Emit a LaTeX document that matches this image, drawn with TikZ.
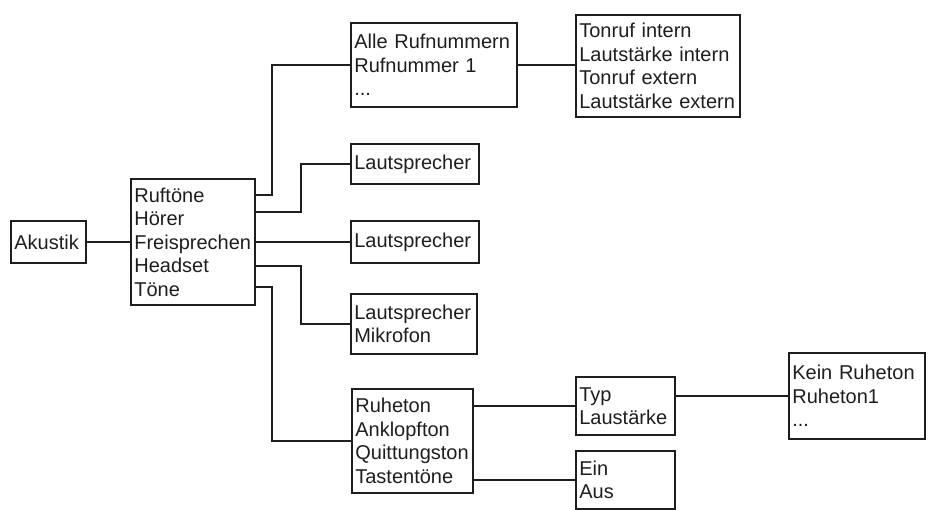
\documentclass[tikz,border=0pt]{standalone}
\usepackage{fontspec}
\setmainfont{Liberation Sans}
\usetikzlibrary{calc}
\definecolor{ink}{HTML}{1E1E1E}
\tikzset{
  box/.style={draw=ink, line width=1.5pt, anchor=north west, align=left,
    inner xsep=2.5pt, inner ysep=0pt, text=ink,
    font=\fontsize{15pt}{17.6pt}\selectfont},
  link/.style={draw=ink, line width=1.5pt}
}
\begin{document}
\begin{tikzpicture}[x=0.75pt,y=-0.75pt]
\useasboundingbox (0,0) rectangle (932,510);
\node[box, minimum width=56.25pt, minimum height=31.5pt, text width=51.25pt] (ak) at (10,220) {Akustik};
\node[box, minimum width=93pt, minimum height=94.5pt, text width=88pt] (main) at (130,178) {Ruftöne\\Hörer\\Freisprechen\\Headset\\Töne};
\node[box, minimum width=124.5pt, minimum height=63pt, text width=119.5pt] (alle) at (350,22) {Alle Rufnummern\\Rufnummer 1\\...};
\node[box, minimum width=123pt, minimum height=76.5pt, text width=118pt] (ton) at (575,14) {Tonruf intern\\Lautstärke intern\\Tonruf extern\\Lautstärke extern};
\node[box, minimum width=96pt, minimum height=30pt, text width=91pt] (ls1) at (350,143) {Lautsprecher};
\node[box, minimum width=96pt, minimum height=31.5pt, text width=91pt] (ls2) at (350,220) {Lautsprecher};
\node[box, minimum width=94.5pt, minimum height=45pt, text width=89.5pt] (ls3) at (350,293) {Lautsprecher\\Mikrofon};
\node[box, minimum width=90.75pt, minimum height=78pt, text width=85.75pt] (ruh) at (351,388) {Ruheton\\Anklopfton\\Quittungston\\Tastentöne};
\node[box, minimum width=74.25pt, minimum height=43.5pt, text width=69.25pt] (typ) at (575,376) {Typ\\Laustärke};
\node[box, minimum width=74.25pt, minimum height=43.5pt, text width=69.25pt] (ein) at (575,450) {Ein\\Aus};
\node[box, minimum width=102pt, minimum height=64.5pt, text width=97pt] (kein) at (788,352) {Kein Ruheton\\Ruheton1\\...};

\draw[link] (ak.east) -- (ak.east -| main.west);
\draw[link] ($(main.east)+(0,-47)$) -- ++(16,0) |- (alle.west);
\draw[link] ($(main.east)+(0,-30)$) -- ++(45,0) |- (ls1.west);
\draw[link] (main.east) -- (main.east -| ls2.west);
\draw[link] ($(main.east)+(0,24)$) -- ++(45,0) |- (ls3.west);
\draw[link] ($(main.east)+(0,45)$) -- ++(16,0) |- (ruh.west);
\draw[link] (alle.east) -- (alle.east -| ton.west);
\draw[link] (ruh.east |- typ.west) -- (typ.west);
\draw[link] (ruh.east |- ein.west) -- (ein.west);
\draw[link] (typ.east |- kein.west) -- (kein.west);
\end{tikzpicture}
\end{document}
